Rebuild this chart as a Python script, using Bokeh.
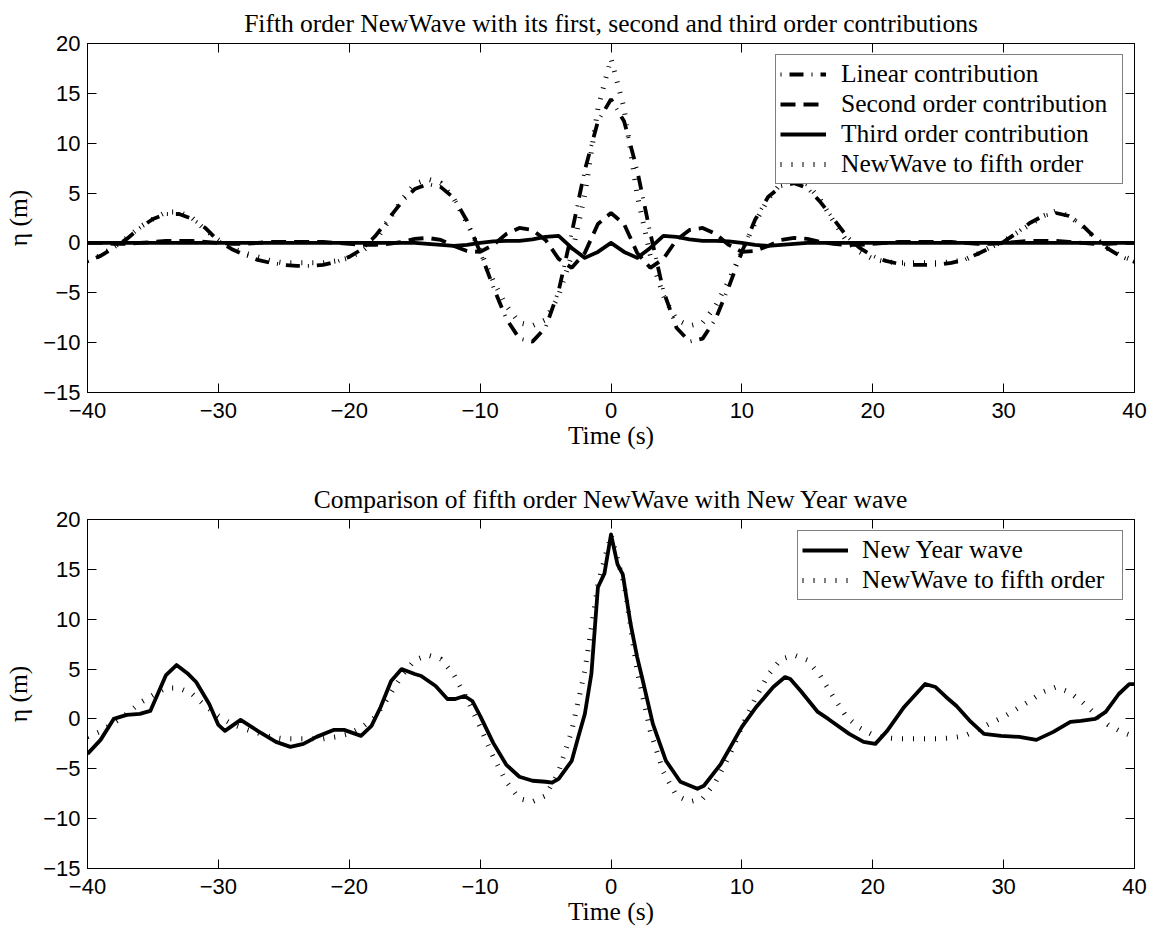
from bokeh.plotting import figure
from bokeh.layouts import column
from bokeh.models import (LinearAxis, FixedTicker, CustomJSTickFormatter, Legend,
                          LegendItem, Range1d)
from bokeh.embed import file_html
from bokeh.resources import INLINE

# ---------------- data ----------------
time_s = list(range(-40, 41))

linear = [-1.8, -1.3, -0.5, 0.4, 1.5, 2.4, 2.9, 2.9, 2.4, 1.5, 0.2, -0.6, -1.2, -1.7, -2.0,
          -2.2, -2.3, -2.3, -2.2, -1.9, -1.4, -0.6, 0.7, 2.4, 4.1, 5.4, 5.9, 5.6, 4.5, 2.2,
          -0.9, -4.4, -7.6, -9.6, -9.9, -8.5, -4.8, 1.0, 7.3, 12.2,
          14.4,
          12.2, 7.3, 1.0, -4.8, -8.5, -9.9, -9.6, -7.6, -4.4, -0.9, 2.3, 4.6, 5.7, 6.0, 5.5,
          4.1, 2.4, 0.7, -0.5, -1.3, -1.8, -2.1, -2.2, -2.2, -2.2, -2.0, -1.7, -1.1, -0.5,
          0.1, 1.0, 2.0, 2.7, 3.0, 2.7, 1.8, 0.5, -0.6, -1.4, -1.9]

second = [0.0, 0.0, -0.1, -0.1, 0.0, 0.1, 0.2, 0.2, 0.2, 0.1, 0.0, -0.1, -0.1, 0.0, 0.1,
          0.1, 0.1, 0.1, 0.1, 0.0, -0.1, -0.2, -0.2, -0.1, 0.1, 0.4, 0.5, 0.3, -0.3, -0.8,
          -0.9, -0.2, 0.9, 1.5, 1.3, 0.3, -1.6, -2.5, -1.0, 1.9,
          3.0,
          1.9, -1.0, -2.5, -1.6, 0.3, 1.3, 1.5, 0.9, -0.2, -0.9, -0.8, -0.3, 0.3, 0.5, 0.4,
          0.1, -0.1, -0.2, -0.2, -0.1, 0.0, 0.1, 0.1, 0.1, 0.1, 0.1, 0.0, -0.1, -0.1, 0.0,
          0.1, 0.2, 0.2, 0.2, 0.1, 0.0, -0.1, -0.1, 0.0, 0.0]

third = [0.0, 0.0, 0.0, 0.0, 0.0, 0.0, 0.0, 0.0, 0.0, 0.0, 0.0, 0.0, 0.0, 0.0, 0.0,
         0.0, 0.0, 0.0, 0.0, 0.0, 0.0, 0.0, 0.0, 0.0, 0.0, 0.0, -0.1, -0.2, -0.3, -0.2,
         0.0, 0.15, 0.2, 0.2, 0.35, 0.6, 0.7, -0.5, -1.5, -0.9,
         0.0,
         -0.9, -1.5, -0.5, 0.7, 0.6, 0.35, 0.2, 0.2, 0.15, 0.0, -0.2, -0.3, -0.2, -0.1, 0.0,
         0.0, 0.0, 0.0, 0.0, 0.0, 0.0, 0.0, 0.0, 0.0, 0.0, 0.0, 0.0, 0.0, 0.0, 0.0,
         0.0, 0.0, 0.0, 0.0, 0.0, 0.0, 0.0, 0.0, 0.0, 0.0]

newwave5 = [-1.8, -1.25, -0.4, 0.5, 1.6, 2.4, 3.1, 3.1, 2.5, 1.3, 0.3, -0.5, -1.0, -1.4, -1.8,
            -2.0, -2.0, -2.0, -2.0, -1.8, -1.5, -0.8, 0.2, 2.2, 4.3, 5.9, 6.4, 6.0, 4.4, 2.0,
            -0.8, -3.8, -6.3, -8.0, -8.3, -7.7, -5.3, -1.2, 4.8, 13.5,
            18.5,
            13.5, 4.8, -1.2, -5.3, -7.7, -8.3, -8.0, -6.3, -3.8, -0.8, 2.0, 4.4, 6.0, 6.4, 5.9,
            4.3, 2.2, 0.2, -0.9, -1.6, -1.9, -2.0, -2.0, -2.0, -2.0, -1.9, -1.7, -1.1, -0.4,
            0.2, 1.0, 1.8, 2.7, 3.2, 2.7, 1.7, 0.5, -0.6, -1.3, -1.8]

ny_time = [-40, -39, -38, -37, -36, -35.2, -34, -33.2, -32.3, -31.7, -30.7, -30, -29.5, -28.3,
           -27, -25.6, -24.5, -23.5, -22.5, -21.2, -20.4, -19.1, -18.3, -17.6, -16.8, -16,
           -15, -14.5, -13.4, -12.5, -11.9, -11.2, -10.6, -10, -9, -8, -7, -6, -5, -4.5, -4,
           -3, -2.5, -2, -1.5, -1, -0.5, 0, 0.5, 0.9, 1.5, 2, 2.4, 3.2, 4.2, 5.3, 6.6, 7.1,
           8.4, 10, 11.1, 12.4, 13.3, 13.7, 14.5, 15.8, 16.6, 18.2, 19.3, 20.2, 21.1, 22.4,
           24, 24.8, 25.6, 26.4, 27.5, 28.5, 29.8, 31.2, 32.5, 33.8, 35.1, 35.9, 37, 37.8,
           38.8, 39.6, 40]
ny_eta = [-3.5, -2.1, 0.0, 0.4, 0.5, 0.8, 4.4, 5.4, 4.5, 3.7, 1.5, -0.6, -1.2, -0.1,
          -1.2, -2.3, -2.8, -2.5, -1.8, -1.1, -1.1, -1.7, -0.7, 1.2, 3.8, 5.0,
          4.5, 4.3, 3.3, 2.0, 2.0, 2.3, 1.8, 0.3, -2.4, -4.6, -5.8, -6.2, -6.3, -6.4, -6.0,
          -4.2, -1.8, 0.5, 4.5, 13.2, 14.6, 18.5, 15.5, 14.5, 9.5, 6.2, 4.0, -0.5, -4.2, -6.3,
          -7.0, -6.7, -4.5, -0.8, 1.2, 3.2, 4.2, 4.0, 2.8, 0.7, 0.0, -1.5, -2.3, -2.5, -1.2,
          1.2, 3.5, 3.2, 2.2, 1.3, -0.3, -1.5, -1.7, -1.8, -2.1, -1.3, -0.3, -0.2, 0.0, 0.7,
          2.5, 3.5, 3.5]

x_ticks = [-40, -30, -20, -10, 0, 10, 20, 30, 40]
y_ticks = [-15, -10, -5, 0, 5, 10, 15, 20]

title_top = "Fifth order NewWave with its first, second and third order contributions"
title_bottom = "Comparison of fifth order NewWave with New Year wave"
x_label = "Time (s)"
y_label = "\u03b7 (m)"

# ---------------- style ----------------
SERIF = "Liberation Serif"
SANS = "Liberation Sans"
TICK_FONT = "22px"
LABEL_FONT = "25.5px"
TITLE_FONT = "25.5px"
LEGEND_FONT = "25.5px"
TICK_LEN = 9
LW = 3.8

fmt = CustomJSTickFormatter(code="return (tick < 0 ? '\\u2212' : '') + Math.abs(tick).toString();")


def style_axis(ax, ticks, label=None, show_labels=True):
    ax.ticker = FixedTicker(ticks=ticks)
    ax.major_tick_in = TICK_LEN
    ax.major_tick_out = 0
    ax.minor_tick_in = 0
    ax.minor_tick_out = 0
    ax.axis_line_color = "black"
    ax.axis_line_width = 1
    ax.major_tick_line_color = "black"
    ax.major_tick_line_width = 1
    if show_labels:
        ax.formatter = fmt
        ax.major_label_text_font = SANS
        ax.major_label_text_font_size = TICK_FONT
        ax.major_label_text_color = "black"
    else:
        ax.major_label_text_font_size = "0px"
        ax.major_label_text_color = None
        ax.major_label_text_alpha = 0
        ax.major_label_standoff = 0
    if label is not None:
        ax.axis_label = label
        ax.axis_label_text_font = SERIF
        ax.axis_label_text_font_size = LABEL_FONT
        ax.axis_label_text_font_style = "normal"
        ax.axis_label_text_color = "black"


def make_fig(title, height, top, bottom):
    p = figure(width=1156, height=height, x_range=Range1d(-40, 40), y_range=Range1d(-15, 20),
               output_backend="svg", toolbar_location=None,
               min_border_left=87, min_border_right=22, min_border_top=top,
               min_border_bottom=bottom, background_fill_color="white",
               border_fill_color="white", outline_line_color="black", outline_line_width=1)
    p.title.text = title
    p.title.text_font = SERIF
    p.title.text_font_size = TITLE_FONT
    p.title.text_font_style = "normal"
    p.title.text_color = "black"
    p.title.align = "center"
    p.title.standoff = 11
    p.xgrid.grid_line_color = None
    p.ygrid.grid_line_color = None
    style_axis(p.xaxis[0], x_ticks, x_label)
    p.xaxis[0].major_label_standoff = 10
    p.xaxis[0].axis_label_standoff = 0
    style_axis(p.yaxis[0], y_ticks, y_label)
    p.yaxis[0].major_label_standoff = 7
    p.yaxis[0].axis_label_standoff = 7
    top_ax = LinearAxis()
    style_axis(top_ax, x_ticks, show_labels=False)
    p.add_layout(top_ax, "above")
    right_ax = LinearAxis()
    style_axis(right_ax, y_ticks, show_labels=False)
    p.add_layout(right_ax, "right")
    return p


def add_legend(p, items, label_width, standoff):
    leg = Legend(items=[LegendItem(label=l, renderers=[r]) for l, r in items],
                 location="top_right", margin=11, padding=4, spacing=0,
                 label_text_font=SERIF, label_text_font_size=LEGEND_FONT,
                 label_text_color="black", label_standoff=standoff, label_height=28,
                 label_width=label_width, glyph_width=46, glyph_height=28,
                 border_line_color="black", border_line_width=1,
                 background_fill_color="white", background_fill_alpha=1.0)
    p.add_layout(leg)


# ---------------- top plot ----------------
p1 = make_fig(title_top, 460, 43, 68)
r_lin = p1.line(time_s, linear, line_color="black", line_width=LW, line_dash="14 8 1 8",
                line_dash_offset=22)
r_sec = p1.line(time_s, second, line_color="black", line_width=LW, line_dash="15 8")
r_thi = p1.line(time_s, third, line_color="black", line_width=LW, line_join="round")
r_nw = p1.line(time_s, newwave5, line_color="black", line_width=5, line_dash="1 10")
add_legend(p1, [("Linear contribution", r_lin), ("Second order contribution", r_sec),
                ("Third order contribution", r_thi), ("NewWave to fifth order", r_nw)],
           label_width=277, standoff=15)

# ---------------- bottom plot ----------------
p2 = make_fig(title_bottom, 474, 59, 66)
r_ny = p2.line(ny_time, ny_eta, line_color="black", line_width=LW, line_join="round")
r_nw2 = p2.line(time_s, newwave5, line_color="black", line_width=5, line_dash="1 10")
add_legend(p2, [("New Year wave", r_ny), ("NewWave to fifth order", r_nw2)],
           label_width=256, standoff=14)

layout = column(p1, p2, spacing=0)
open("out.html", "w").write(file_html(layout, INLINE))
